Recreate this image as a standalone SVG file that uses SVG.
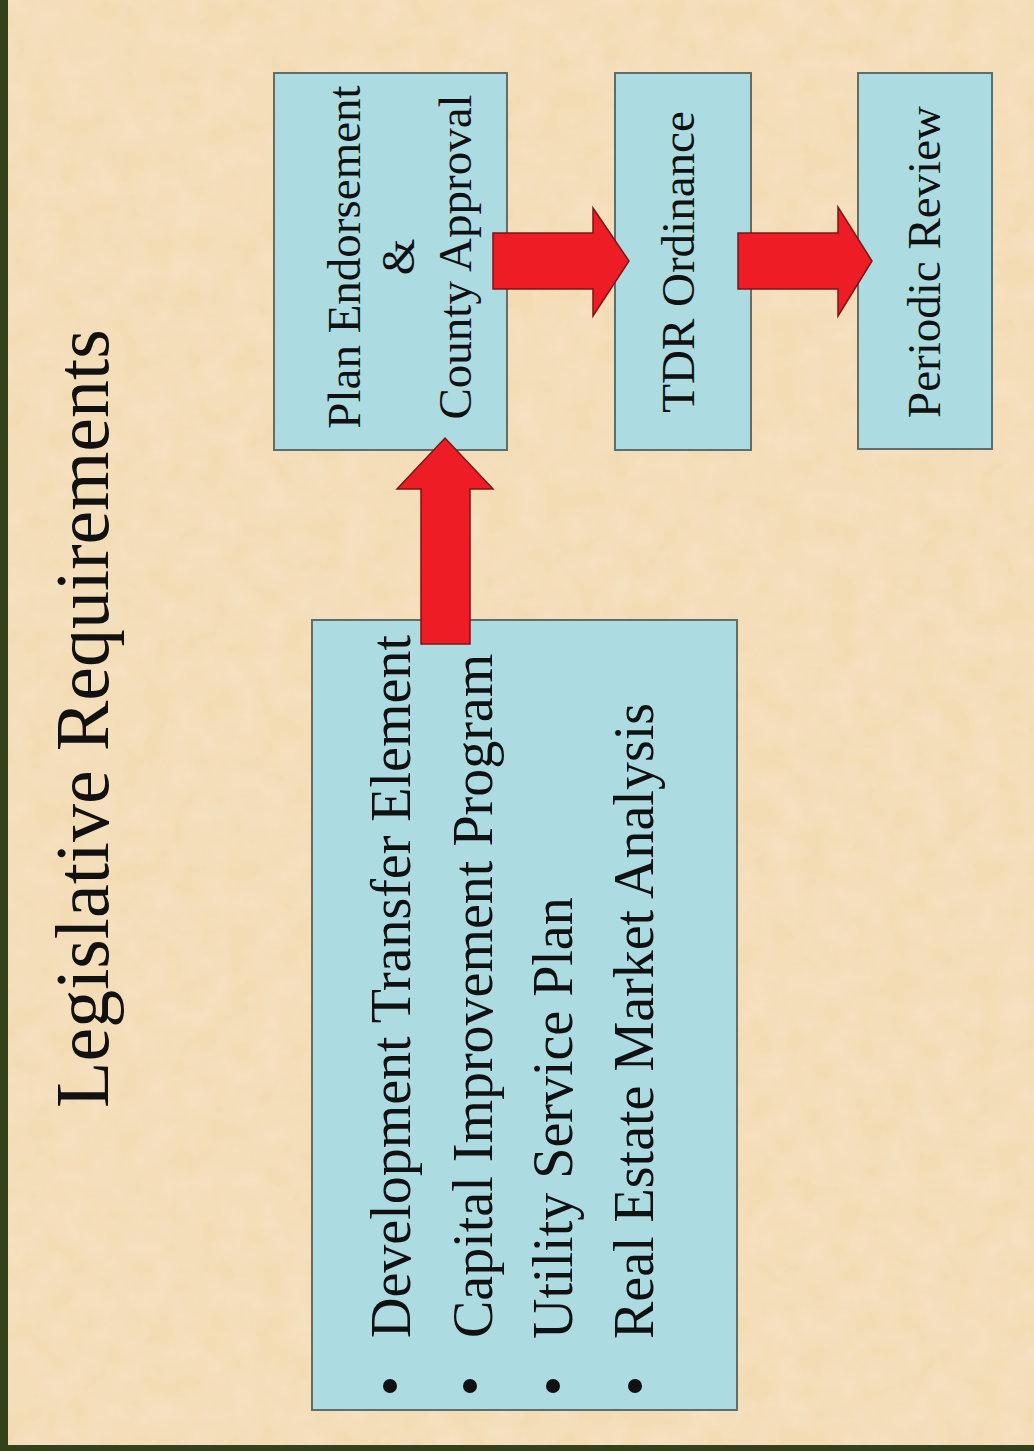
<svg xmlns="http://www.w3.org/2000/svg" width="1034" height="1451" viewBox="0 0 1034 1451">
  <defs>
    <filter id="paper" x="0" y="0" width="100%" height="100%">
      <feTurbulence type="fractalNoise" baseFrequency="0.035" numOctaves="3" seed="7" result="n"/>
      <feColorMatrix in="n" type="matrix" values="0 0 0 0 0.93  0 0 0 0 0.78  0 0 0 0 0.60  0 0 0 0.9 -0.25" result="c"/>
      <feComposite in="c" in2="SourceGraphic" operator="over"/>
    </filter>
    <style>
      .box { fill: #acdbe1; stroke: #5e6e6c; stroke-width: 2; }
      .lbl { font-family: "Liberation Serif", "Times New Roman", serif; font-size: 47px; fill: #111; text-anchor: middle; }
      .item { font-family: "Liberation Serif", "Times New Roman", serif; font-size: 56px; fill: #111; }
      .title { font-family: "Liberation Serif", "Times New Roman", serif; font-size: 76px; fill: #111; }
      .arrow { fill: #ee1c24; stroke: #7a1616; stroke-width: 1.5; stroke-linejoin: miter; }
      .dot { fill: #111; }
    </style>
  </defs>

  <rect x="0" y="0" width="1034" height="1451" fill="#f3dcb4" filter="url(#paper)"/>
  <rect x="0" y="0" width="8" height="1451" fill="#34421c"/>
  <rect x="0" y="1445" width="1034" height="6" fill="#34421c"/>

  <g id="title">
    <text class="title" transform="translate(108,1108) rotate(-90)">Legislative Requirements</text>
  </g>

  <g id="node-plan">
    <rect class="box" x="274" y="73" width="233" height="377"/>
    <text class="lbl" transform="translate(360,257) rotate(-90)">Plan Endorsement</text>
    <text class="lbl" transform="translate(414,257) rotate(-90)">&amp;</text>
    <text class="lbl" transform="translate(471,257) rotate(-90)">County Approval</text>
  </g>

  <g id="node-tdr">
    <rect class="box" x="615" y="73" width="136" height="377"/>
    <text class="lbl" transform="translate(694,262) rotate(-90)">TDR Ordinance</text>
  </g>

  <g id="node-review">
    <rect class="box" x="858" y="73" width="134" height="376"/>
    <text class="lbl" transform="translate(940,262) rotate(-90)">Periodic Review</text>
  </g>

  <g id="node-list">
    <rect class="box" x="312" y="620" width="425" height="790"/>
    <circle class="dot" cx="390" cy="1386" r="7"/>
    <circle class="dot" cx="470" cy="1386" r="7"/>
    <circle class="dot" cx="553" cy="1386" r="7"/>
    <circle class="dot" cx="635" cy="1386" r="7"/>
    <text class="item" transform="translate(410,1338) rotate(-90)">Development Transfer Element</text>
    <text class="item" transform="translate(492,1338) rotate(-90)">Capital Improvement Program</text>
    <text class="item" transform="translate(572,1339) rotate(-90)">Utility Service Plan</text>
    <text class="item" transform="translate(653,1339) rotate(-90)">Real Estate Market Analysis</text>
  </g>

  <g id="connectors">
    <path class="arrow" d="M421,644 L470,644 L470,489 L493,489 L445,438 L397,489 L421,489 Z"/>
    <path class="arrow" d="M493,233 L593,233 L593,208 L629,261 L593,316 L593,289 L493,289 Z"/>
    <path class="arrow" d="M738,233 L838,233 L838,207 L872,261 L838,316 L838,289 L738,289 Z"/>
  </g>
</svg>
